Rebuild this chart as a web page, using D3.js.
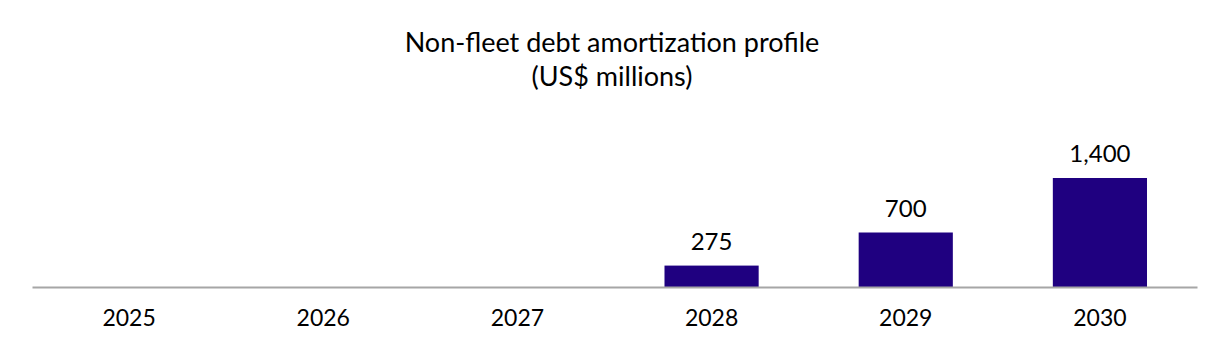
<!DOCTYPE html>
<html>
<head>
<meta charset="utf-8">
<script src="https://cdn.jsdelivr.net/npm/d3@7"></script>
<style>
  body { margin: 0; background: #fff; }
  text { font-family: Lato, "Open Sans", sans-serif; fill: #000; }
</style>
</head>
<body>
<div id="chart"></div>
<script>
var years = ["2025", "2026", "2027", "2028", "2029", "2030"];
var amounts = [0, 0, 0, 275, 700, 1400];
var titleLines = ["Non-fleet debt amortization profile", "(US$ millions)"];

var width = 1226, height = 364;
var barColor = "#1f0080";

var svg = d3.select("#chart")
	.append("svg")
	.attr("width", width)
	.attr("height", height)
;

var xScale = d3.scaleBand()
	.domain(years)
	.range([32, 1197])
	.paddingInner(0.515)
	.paddingOuter(0.2575)
;

var yScale = d3.scaleLinear()
	.domain([0, 1400])
	.range([287, 178])
;

// title
svg.selectAll("text.title")
	.data(titleLines)
	.enter()
	.append("text")
	.attr("class", "title")
	.attr("x", 612)
	.attr("y", function(d, i) { return 52 + i * 34; })
	.attr("text-anchor", "middle")
	.style("font-size", "27px")
	.text(function(d) { return d; })
;

var data = years.map(function(y, i) { return { year: y, value: amounts[i] }; });
var shown = data.filter(function(d) { return d.value > 0; });

svg.selectAll("rect")
	.data(shown)
	.enter()
	.append("rect")
	.attr("x", function(d) { return xScale(d.year); })
	.attr("width", xScale.bandwidth())
	.attr("y", function(d) { return yScale(d.value); })
	.attr("height", function(d) { return yScale(0) - yScale(d.value); })
	.attr("fill", barColor)
;

svg.selectAll("text.value")
	.data(shown)
	.enter()
	.append("text")
	.attr("class", "value")
	.attr("x", function(d) { return xScale(d.year) + xScale.bandwidth() / 2; })
	.attr("y", function(d) { return yScale(d.value) - 16; })
	.attr("text-anchor", "middle")
	.style("font-size", "24px")
	.text(function(d) { return d3.format(",")(d.value); })
;

// x axis
var xAxis = svg.append("g")
	.attr("transform", "translate(0," + yScale(0) + ")")
	.call(d3.axisBottom(xScale).tickSize(0).tickPadding(23).tickSizeOuter(0))
;
xAxis.select(".domain")
	.attr("stroke", "#a6a6a6")
	.attr("stroke-width", 2)
;
xAxis.selectAll("text")
	.style("font-size", "23px")
	.style("font-family", "Lato, 'Open Sans', sans-serif")
	.attr("fill", "#000")
;
</script>
</body>
</html>
